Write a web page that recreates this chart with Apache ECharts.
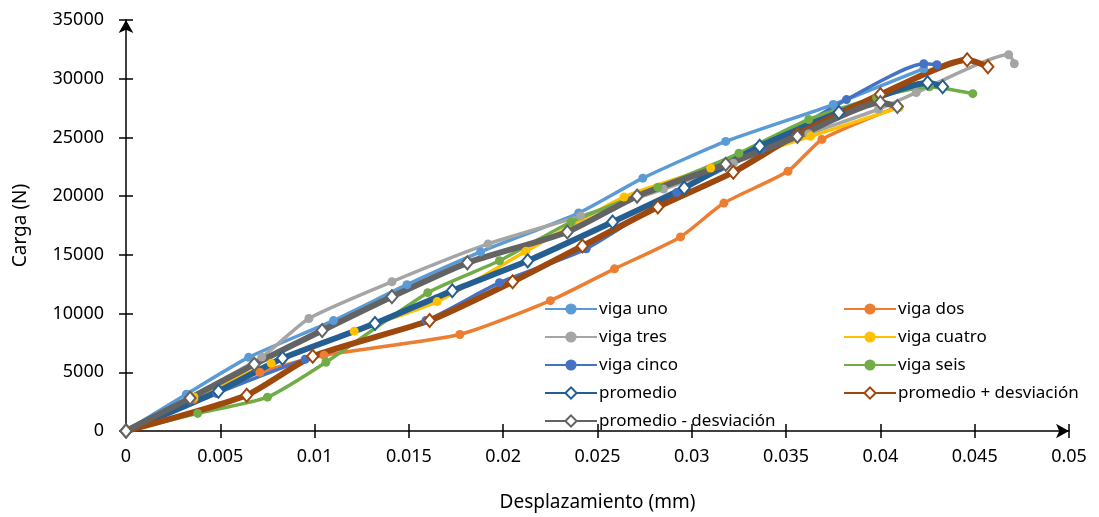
<!DOCTYPE html>
<html>
<head>
<meta charset="utf-8">
<title>Carga vs Desplazamiento</title>
<script src="https://cdn.jsdelivr.net/npm/echarts@6/dist/echarts.min.js"></script>
<style>
  html, body { margin: 0; padding: 0; background: #fff; }
  #chart { width: 1099px; height: 517px; }
</style>
</head>
<body>
<div id="chart"></div>
<script>
// Load–displacement curves, each point is [desplazamiento (mm), carga (N)]
const vigaUno = [[0,0],[0.0032,3140],[0.0065,6270],[0.0110,9400],[0.0149,12460],[0.0188,15250],[0.0240,18560],[0.0274,21530],[0.0318,24660],[0.0375,27800],[0.0423,30850]];
const vigaDos = [[0,0],[0.0036,2700],[0.0071,5000],[0.0105,6450],[0.0177,8220],[0.0225,11100],[0.0259,13810],[0.0294,16530],[0.0317,19410],[0.0351,22120],[0.0369,24830],[0.0409,27600]];
const vigaTres = [[0,0],[0.0034,2900],[0.0072,6300],[0.0097,9580],[0.0141,12710],[0.0192,15930],[0.0241,18300],[0.0285,20600],[0.0322,22800],[0.0362,25300],[0.0399,27400],[0.0419,28820],[0.0468,32040],[0.0471,31270]];
const vigaCuatro = [[0,0],[0.0036,2900],[0.0077,5760],[0.0121,8500],[0.0165,11020],[0.0212,15300],[0.0264,19920],[0.0310,22400],[0.0363,25090],[0.0410,27550]];
const vigaCinco = [[0,0],[0.0048,3200],[0.0095,6100],[0.0159,9400],[0.0198,12630],[0.0244,15510],[0.0292,20300],[0.0337,24000],[0.0382,28220],[0.0423,31270],[0.0430,31190]];
const vigaSeis = [[0,0],[0.0038,1500],[0.0075,2880],[0.0106,5850],[0.0160,11780],[0.0198,14500],[0.0236,17800],[0.0282,20760],[0.0325,23650],[0.0362,26530],[0.0398,28400],[0.0426,29320],[0.0449,28730]];
const promedio = [[0,0],[0.0049,3390],[0.0083,6190],[0.0132,9150],[0.0173,11950],[0.0213,14490],[0.0258,17800],[0.0296,20700],[0.0336,24240],[0.0378,27120],[0.0425,29660],[0.0433,29320]];
const promedioMas = [[0,0],[0.0064,3050],[0.0099,6360],[0.0161,9410],[0.0205,12710],[0.0242,15760],[0.0282,19070],[0.0322,22040],[0.0356,25260],[0.0400,28650],[0.0446,31610],[0.0457,31020]];
const promedioMenos = [[0,0],[0.0034,2800],[0.0068,5680],[0.0104,8560],[0.0141,11440],[0.0181,14320],[0.0234,16950],[0.0271,20000],[0.0318,22710],[0.0356,25090],[0.0400,27970],[0.0409,27630]];

const xTicks = { min: 0, max: 0.05, interval: 0.005 };
const yTicks = { min: 0, max: 35000, interval: 5000 };

const FONT = "'Noto Sans', 'Open Sans', sans-serif";

function viga(name, data, color) {
  return {
    name, type: 'line', data, smooth: 0.2,
    symbol: 'circle', symbolSize: 9, showSymbol: true,
    lineStyle: { color, width: 3.5 },
    itemStyle: { color },
    xAxisIndex: 0, yAxisIndex: 0
  };
}
function resumen(name, data, color) {
  return {
    name, type: 'line', data, smooth: 0.2,
    symbol: 'diamond', symbolSize: [11, 13], showSymbol: true,
    lineStyle: { color, width: 6 },
    itemStyle: { color: '#ffffff', borderColor: color, borderWidth: 2 },
    xAxisIndex: 0, yAxisIndex: 0
  };
}

const series = [
  viga('viga uno', vigaUno, '#5B9BD5'),
  viga('viga dos', vigaDos, '#ED7D31'),
  viga('viga tres', vigaTres, '#A5A5A5'),
  viga('viga cuatro', vigaCuatro, '#FFC000'),
  viga('viga cinco', vigaCinco, '#4472C4'),
  viga('viga seis', vigaSeis, '#70AD47'),
  resumen('promedio', promedio, '#255E91'),
  resumen('promedio + desviación', promedioMas, '#9E480E'),
  resumen('promedio - desviación', promedioMenos, '#636363')
];

const legendCommon = {
  orient: 'vertical', itemWidth: 52, itemHeight: 14, itemGap: 10,
  textStyle: { fontFamily: FONT, fontSize: 17, color: '#000', lineHeight: 18, padding: [0, 0, 0, -3] }
};

const chart = echarts.init(document.getElementById('chart'), null, { renderer: 'canvas' });
chart.setOption({
  animation: false,
  backgroundColor: '#ffffff',
  grid: { left: 126, right: 30, top: 20, bottom: 84, containLabel: false },
  legend: [
    Object.assign({}, legendCommon, { left: 539, top: 295,
      data: ['viga uno', 'viga tres', 'viga cinco', 'promedio', 'promedio - desviación'] }),
    Object.assign({}, legendCommon, { left: 838, top: 295,
      data: ['viga dos', 'viga cuatro', 'viga seis', 'promedio + desviación'] })
  ],
  xAxis: [
    {
      type: 'value', min: xTicks.min, max: xTicks.max, interval: xTicks.interval,
      name: 'Desplazamiento (mm)', nameLocation: 'middle', nameGap: 62,
      nameTextStyle: { fontFamily: FONT, fontSize: 19, color: '#000' },
      axisLine: { show: true, onZero: false, lineStyle: { color: '#000', width: 1.5 },
        symbol: ['none', 'arrow'], symbolSize: [11, 13] },
      axisTick: { show: true, inside: false, length: 7, lineStyle: { color: '#000', width: 1.5 } },
      axisLabel: { fontFamily: FONT, fontSize: 18, color: '#000', margin: 17,
        formatter: v => String(+v.toFixed(3)) },
      splitLine: { show: false }
    },
    {
      type: 'value', min: xTicks.min, max: xTicks.max, interval: xTicks.interval,
      position: 'bottom', offset: 0,
      axisLine: { show: false },
      axisTick: { show: true, inside: true, length: 7, lineStyle: { color: '#000', width: 1.5 } },
      axisLabel: { show: false }, splitLine: { show: false }
    }
  ],
  yAxis: [
    {
      type: 'value', min: yTicks.min, max: yTicks.max, interval: yTicks.interval,
      name: 'Carga (N)', nameLocation: 'middle', nameGap: 96,
      nameTextStyle: { fontFamily: FONT, fontSize: 19, color: '#000' },
      axisLine: { show: true, onZero: false, lineStyle: { color: '#000', width: 1.5 },
        symbol: ['none', 'arrow'], symbolSize: [11, 13] },
      axisTick: { show: true, inside: false, length: 7, lineStyle: { color: '#000', width: 1.5 } },
      axisLabel: { fontFamily: FONT, fontSize: 18, color: '#000', margin: 22,
        formatter: v => String(v) },
      splitLine: { show: false }
    },
    {
      type: 'value', min: yTicks.min, max: yTicks.max, interval: yTicks.interval,
      position: 'left', offset: 0,
      axisLine: { show: false },
      axisTick: { show: true, inside: true, length: 7, lineStyle: { color: '#000', width: 1.5 } },
      axisLabel: { show: false }, splitLine: { show: false }
    }
  ],
  series
});
</script>
</body>
</html>
